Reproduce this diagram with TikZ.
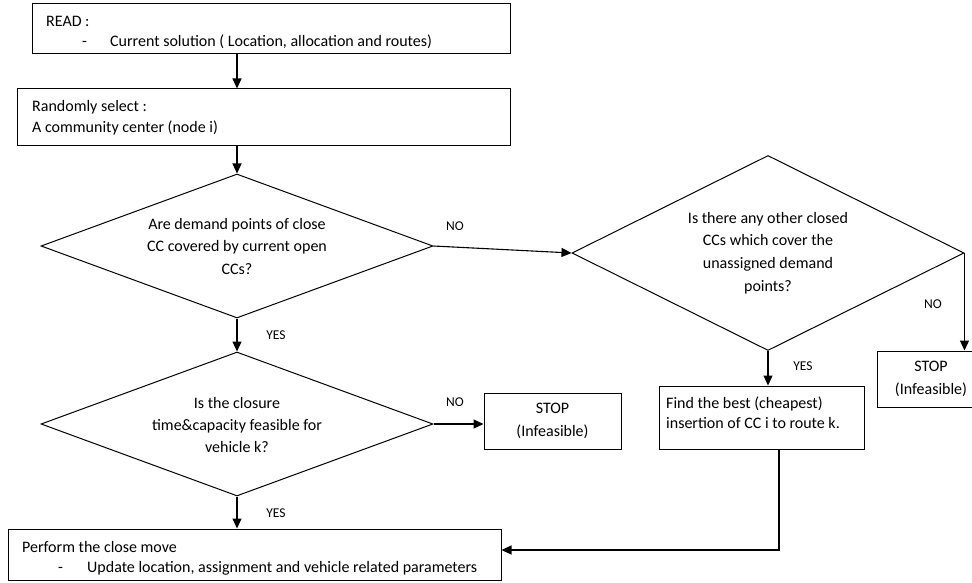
\documentclass[tikz,border=0pt]{standalone}
\usepackage{fontspec}
\setmainfont{Carlito}
\usetikzlibrary{arrows.meta,shapes.geometric}
\begin{document}
\begin{tikzpicture}[x=1pt,y=-1pt,
  box/.style={draw=black,line width=1pt,rectangle,inner sep=0pt},
  dia/.style={draw=black,line width=1pt,diamond,inner sep=0pt},
  txt/.style={inner sep=0pt,font=\fontsize{16}{20}\selectfont},
  lbl/.style={inner sep=0pt,font=\fontsize{13.5}{16}\selectfont},
  arr/.style={line width=1.1pt,-{Triangle[length=10pt,width=9pt]}}]
\useasboundingbox (0,0) rectangle (972,583);

% boxes
\node[box,minimum width=478pt,minimum height=50pt] (read) at (271,29) {};
\node[box,minimum width=493pt,minimum height=57pt] (sel) at (263.5,117.5) {};
\node[box,minimum width=137pt,minimum height=56pt] (stop1) at (552.5,421) {};
\node[box,minimum width=205pt,minimum height=63pt] (find) at (761.5,417.5) {};
\node[box,minimum width=108pt,minimum height=56pt] (stop2) at (931,379) {};
\node[box,minimum width=493pt,minimum height=51pt] (perf) at (254.5,554.5) {};

% decisions
\node[dia,minimum width=392pt,minimum height=144pt] (d1) at (237,246) {};
\node[dia,minimum width=392pt,minimum height=195pt] (d2) at (768,253) {};
\node[dia,minimum width=392pt,minimum height=144pt] (d3) at (237,424) {};

% texts in boxes
\node[txt,anchor=base west] (readA) at (46,27) {READ :};
\node[txt,anchor=base west] (readD) at (82,47) {-};
\node[txt,anchor=base west] (readB) at (110,47) {Current solution ( Location, allocation and routes)};
\node[txt,anchor=west,align=left,font=\fontsize{16}{21}\selectfont] (selT) at (32,117.5) {Randomly select :\\A community center (node i)};
\node[txt,align=center,font=\fontsize{16}{23}\selectfont] (stop1T) at (stop1) {STOP\\(Infeasible)};
\node[txt,align=center,font=\fontsize{16}{23}\selectfont] (stop2T) at (stop2) {STOP\\(Infeasible)};
\node[txt,anchor=west,align=left,font=\fontsize{16}{20}\selectfont] (findT) at (666,413) {Find the best (cheapest)\\insertion of CC i to route k.};
\node[txt,anchor=base west] (perfA) at (22,552) {Perform the close move};
\node[txt,anchor=base west] (perfD) at (58,572) {-};
\node[txt,anchor=base west] (perfB) at (87,572) {Update location, assignment and vehicle related parameters};

% texts in decisions
\node[txt,align=center,font=\fontsize{16}{22.5}\selectfont] (d1T) at (237,246.5) {Are demand points of close\\CC covered by current open\\CCs?};
\node[txt,align=center,font=\fontsize{16}{22.7}\selectfont] (d2T) at (768,253) {Is there any other closed\\CCs which cover the\\unassigned demand\\points?};
\node[txt,align=center,font=\fontsize{16}{22}\selectfont] (d3T) at (237,425) {Is the closure\\time\&capacity feasible for\\vehicle k?};

% connectors
\draw[arr] (read.south -| d1.north) -- (sel.north -| d1.north);
\draw[arr] (sel.south -| d1.north) -- (d1.north);
\draw[arr] (d1.east) -- (d2.west);
\draw[arr] (d1.south) -- (d3.north);
\draw[arr] (d3.east) -- (d3.east -| stop1.west);
\draw[arr] (d3.south) -- (perf.north -| d3.south);
\draw[arr] (d2.south) -- (find.north -| d2.south);
\draw[arr] (d2.east) -- (stop2.north -| d2.east);
\draw[arr] ([xshift=17.5pt]find.south) |- ([yshift=4.5pt]perf.east);

% branch labels
\node[lbl] (no1) at (455,226) {NO};
\node[lbl] (yes1) at (276,335) {YES};
\node[lbl] (no2) at (455,402) {NO};
\node[lbl] (yes2) at (276,513) {YES};
\node[lbl] (yes3) at (803,366) {YES};
\node[lbl] (no3) at (933,304) {NO};
\end{tikzpicture}
\end{document}
